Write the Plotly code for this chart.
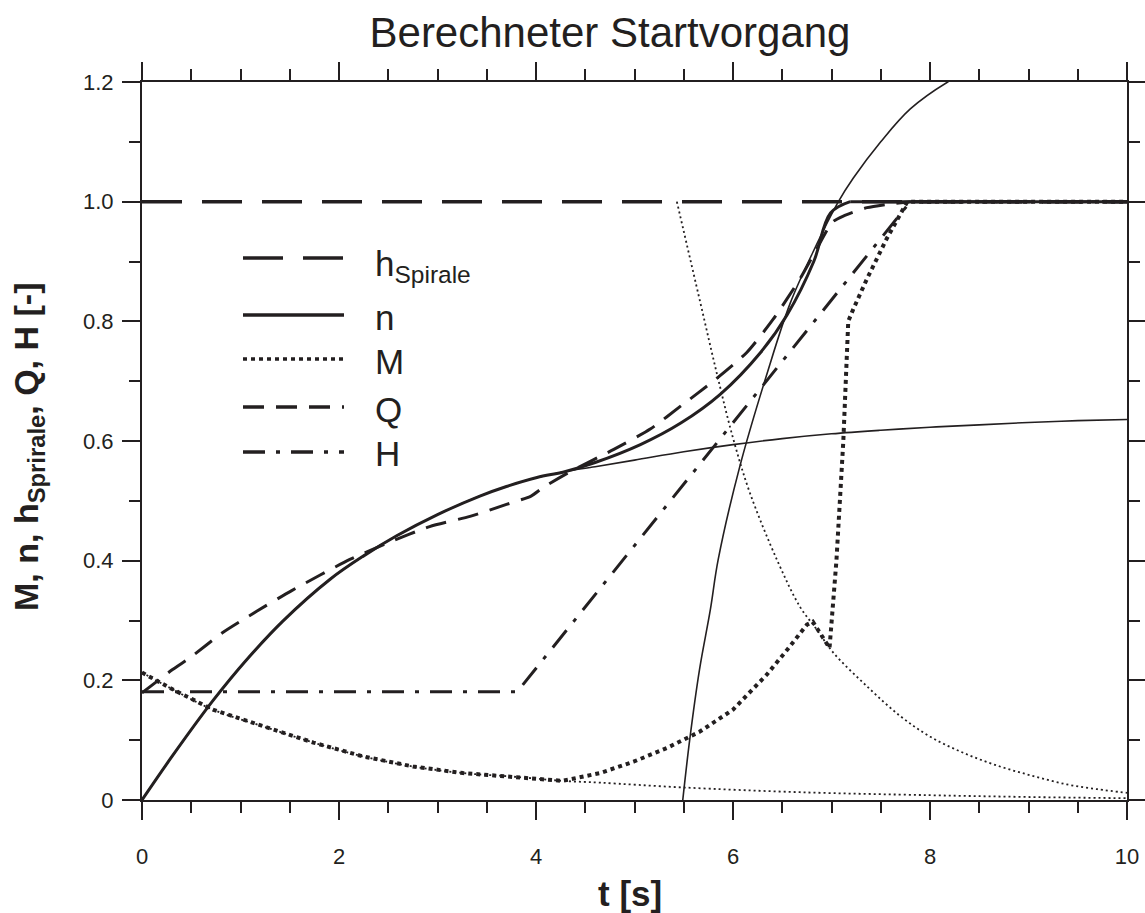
import plotly.graph_objects as go

# ---------------- data ----------------
t_h = [0, 10]
h_spirale = [1.0, 1.0]

# speed n (thick, actual)
t_n = [0, 0.31, 0.72, 1.06, 1.43, 1.91, 2.25, 2.59, 3.0, 3.43, 3.7, 4.01, 4.3,
       4.6, 5.06, 5.47, 5.87, 6.28, 6.55, 6.82, 6.99, 7.19, 10]
n = [0, 0.074, 0.166, 0.234, 0.299, 0.369, 0.408, 0.442, 0.477, 0.508, 0.524, 0.539, 0.549,
     0.564, 0.594, 0.630, 0.678, 0.748, 0.811, 0.900, 0.981, 1.0, 1.0]

# speed n, thin curve 1 (slow asymptotic rise)
t_n1 = [0, 0.31, 0.72, 1.06, 1.43, 1.91, 2.25, 2.59, 3.0, 3.43, 3.7, 4.01, 4.3, 4.6,
        5.0, 5.5, 6.0, 6.5, 7.0, 7.5, 8.0, 8.5, 9.0, 9.5, 10]
n1 = [0, 0.074, 0.166, 0.234, 0.299, 0.369, 0.408, 0.442, 0.477, 0.508, 0.524, 0.539, 0.549, 0.557,
      0.568, 0.582, 0.594, 0.604, 0.612, 0.618, 0.623, 0.627, 0.631, 0.634, 0.636]

# speed n, thin curve 2 (steep rise)
t_n2 = [5.49, 5.56, 5.66, 5.77, 5.85, 6.07, 6.35, 6.58, 6.81, 7.07, 7.22, 7.5, 7.8, 8.18, 8.6, 9.2, 10]
n2 = [0, 0.10, 0.218, 0.318, 0.402, 0.558, 0.715, 0.83, 0.915, 1.0, 1.039, 1.10, 1.155, 1.2, 1.235, 1.265, 1.29]

# torque M (thick, actual)
t_m = [0, 0.31, 0.72, 1.23, 1.74, 2.24, 2.75, 3.26, 3.77, 4.27, 4.65, 4.99, 5.33, 5.66, 6.0,
       6.34, 6.55, 6.75, 6.81, 6.98, 7.05, 7.12, 7.17, 7.22, 7.36, 7.56, 7.77, 10]
m = [0.213, 0.185, 0.151, 0.123, 0.096, 0.073, 0.056, 0.045, 0.039, 0.032, 0.045, 0.064, 0.087,
     0.114, 0.151, 0.209, 0.251, 0.293, 0.298, 0.254, 0.40, 0.60, 0.80, 0.82, 0.871, 0.938, 1.0, 1.0]

# torque M, thin curve 1 (decay from start)
t_m1 = [0, 0.31, 0.72, 1.23, 1.74, 2.24, 2.75, 3.26, 3.77, 4.27, 4.65, 5.49, 6.68, 8.0, 9.0, 10]
m1 = [0.213, 0.185, 0.151, 0.123, 0.096, 0.073, 0.056, 0.045, 0.039, 0.032, 0.029, 0.021, 0.013,
      0.008, 0.005, 0.003]

# torque M, thin curve 2 (decay from 1.0)
t_m2 = [5.43, 5.67, 5.84, 6.0, 6.17, 6.45, 6.68, 6.85, 7.02, 7.36, 7.70, 8.0, 8.35, 8.71, 9.05,
        9.39, 9.7, 10]
m2 = [1.0, 0.83, 0.71, 0.605, 0.514, 0.40, 0.323, 0.285, 0.246, 0.19, 0.14, 0.106, 0.078, 0.056,
      0.04, 0.026, 0.018, 0.012]

# flow Q
t_q = [0, 0.31, 0.49, 0.82, 1.16, 1.52, 2.11, 2.5, 2.92, 3.33, 3.70, 3.95, 4.07, 4.35, 4.79, 5.16,
       5.49, 5.80, 6.14, 6.41, 6.68, 6.85, 7.01, 7.12, 7.36, 7.54, 7.8, 10]
q = [0.179, 0.218, 0.238, 0.28, 0.315, 0.35, 0.402, 0.43, 0.457, 0.474, 0.494, 0.508, 0.522, 0.549,
     0.586, 0.62, 0.661, 0.70, 0.748, 0.804, 0.871, 0.921, 0.966, 0.976, 0.99, 0.995, 1.0, 1.0]

# head H
t_hh = [0, 3.81, 7.8, 10]
hh = [0.181, 0.181, 1.0, 1.0]

x_ticks = [0, 2, 4, 6, 8, 10]
x_ticktext = ["0", "2", "4", "6", "8", "10"]
y_ticks = [0, 0.2, 0.4, 0.6, 0.8, 1.0, 1.2]
y_ticktext = ["0", "0.2", "0.4", "0.6", "0.8", "1.0", "1.2"]

legend_labels = ["h<sub>Spirale</sub>", "n", "M", "Q", "H"]

# ---------------- styling ----------------
INK = "#231f20"
FONT = "Liberation Sans, Arial, sans-serif"

DASH_H = "40px,20px"
DASH_M = "4px,4px"
DASH_M_THIN = "2px,3px"
DASH_Q = "21px,12px"
DASH_HH = "22px,11px,4px,11px"

fig = go.Figure()

def add(x, y, width, dash, shape="linear", smoothing=1.0):
    line = dict(color=INK, width=width, dash=dash, shape=shape)
    if shape == "spline":
        line["smoothing"] = smoothing
    fig.add_trace(go.Scatter(x=x, y=y, mode="lines", showlegend=False,
                             line=line, hoverinfo="skip"))

# thin auxiliary curves
add(t_n1, n1, 1.6, "solid", "spline")
add(t_n2, n2, 1.6, "solid", "spline")
add(t_m1, m1, 1.8, DASH_M_THIN, "spline")
add(t_m2, m2, 1.8, DASH_M_THIN, "spline")

# main curves
add(t_h, h_spirale, 3.5, DASH_H)
add(t_n[:-1], n[:-1], 3, "solid", "spline", 1.0)
add(t_n[-2:], n[-2:], 3, "solid")
add(t_m, m, 4, DASH_M)
add(t_q[:-1], q[:-1], 3, DASH_Q, "spline", 0.6)
add(t_q[-2:], q[-2:], 3, DASH_Q)
add(t_hh, hh, 3, DASH_HH)

axis_common = dict(
    showline=True, linewidth=2, linecolor=INK, mirror="allticks",
    ticks="outside", ticklen=18, tickwidth=1.5, tickcolor=INK,
    showgrid=False, zeroline=False, automargin=False,
    tickfont=dict(family=FONT, size=22, color=INK),
)

fig.update_xaxes(range=[0, 10], tickmode="array", tickvals=x_ticks, ticktext=x_ticktext,
                 ticklabelstandoff=18,
                 minor=dict(dtick=0.5, tick0=0, ticks="outside", ticklen=11, tickwidth=1.5,
                            tickcolor=INK, showgrid=False),
                 **axis_common)
fig.update_yaxes(range=[0, 1.2], tickmode="array", tickvals=y_ticks, ticktext=y_ticktext,
                 ticklabelstandoff=4,
                 minor=dict(dtick=0.1, tick0=0, ticks="outside", ticklen=11, tickwidth=1.5,
                            tickcolor=INK, showgrid=False),
                 **axis_common)

# ---------------- hand-drawn legend (long line keys as in the reference) ----------------
legend_dashes = [DASH_H, "solid", DASH_M, DASH_Q, DASH_HH]
legend_rows_px = [258, 315, 359, 407, 452]     # vertical centres of the keys (px from top)
PLOT_L, PLOT_T, PLOT_W, PLOT_H = 142, 82, 985, 718

def px_x(p):
    return (p - PLOT_L) / PLOT_W

def px_y(p):
    return (PLOT_T + PLOT_H - p) / PLOT_H

shapes = []
annotations = []
for label, dash, row in zip(legend_labels, legend_dashes, legend_rows_px):
    shapes.append(dict(type="line", xref="paper", yref="paper",
                       x0=px_x(243), x1=px_x(344), y0=px_y(row), y1=px_y(row),
                       line=dict(color=INK, width=3.5, dash=dash)))
    yoff = 8 if label.startswith("h") else 2
    annotations.append(dict(text=label, xref="paper", yref="paper",
                            x=px_x(373), y=px_y(row + yoff), xanchor="left", yanchor="middle",
                            showarrow=False, font=dict(family=FONT, size=35, color=INK)))

annotations += [
    dict(text="<b>t [s]</b>", xref="paper", yref="paper", x=px_x(630), y=px_y(893),
         xanchor="center", yanchor="middle", showarrow=False,
         font=dict(family=FONT, size=35, color=INK)),
    dict(text="<b>M, n, h<sub>Sprirale</sub>, Q, H [-]</b>", xref="paper", yref="paper",
         x=px_x(28), y=px_y(447), xanchor="center", yanchor="middle", textangle=-90,
         showarrow=False, font=dict(family=FONT, size=34, color=INK)),
]

fig.update_layout(
    width=1145, height=913,
    margin=dict(l=142, r=18, t=82, b=113),
    paper_bgcolor="white", plot_bgcolor="white",
    showlegend=False,
    title=dict(text="Berechneter Startvorgang", x=610 / 1145, xanchor="center",
               y=0.965, yanchor="middle",
               font=dict(family=FONT, size=42, color=INK)),
    shapes=shapes,
    annotations=annotations,
)

fig.write_html("out.html")
